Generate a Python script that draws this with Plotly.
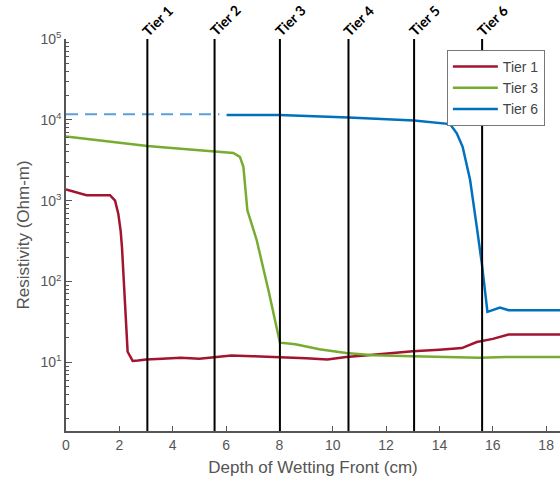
import plotly.graph_objects as go

# ---- data ----
tier1_x = [0, 0.3, 0.77, 1.2, 1.65, 1.84, 1.96, 2.05, 2.1, 2.31, 2.5, 2.7, 3.0, 3.6, 4.3, 5.0, 5.6, 6.2, 7.0, 8.0, 9.0, 9.8, 10.5, 11.2, 12.0, 13.0, 14.0, 14.84, 15.4, 16.0, 16.59, 18.6]
tier1_y = [1380, 1300, 1170, 1170, 1170, 1000, 690, 420, 260, 13.5, 10.4, 10.5, 10.8, 11.1, 11.4, 11.1, 11.6, 12.1, 11.9, 11.6, 11.2, 10.8, 11.6, 12.1, 12.8, 13.7, 14.3, 15.0, 17.8, 19.5, 22.0, 22.0]

tier3_x = [0, 1.0, 2.0, 3.05, 4.3, 5.57, 6.27, 6.52, 6.65, 6.8, 7.15, 7.6, 8.02, 8.6, 9.5, 10.5, 11.52, 13.0, 14.5, 15.5, 16.5, 18.6]
tier3_y = [6200, 5700, 5200, 4730, 4400, 4100, 3900, 3480, 2620, 760, 324, 75, 17.5, 16.7, 14.5, 13.0, 12.2, 11.9, 11.6, 11.4, 11.6, 11.6]

tier6_dash_x = [0, 5.75]
tier6_dash_y = [11700, 11700]
tier6_x = [6.02, 8.0, 10.59, 13.05, 14.4, 14.65, 14.87, 15.15, 15.4, 15.52, 15.59, 15.8, 16.27, 16.59, 18.6]
tier6_y = [11500, 11500, 10700, 9800, 8850, 6800, 4640, 1800, 474, 244, 166, 42, 47.5, 44, 44]

tier_positions = [3.05, 5.57, 8.02, 10.59, 13.05, 15.6]
tier_labels = ["Tier 1", "Tier 2", "Tier 3", "Tier 4", "Tier 5", "Tier 6"]

x_ticks = [0, 2, 4, 6, 8, 10, 12, 14, 16, 18]
y_ticks = [10, 100, 1000, 10000, 100000]
y_ticktext = ["10<sup>1</sup>", "10<sup>2</sup>", "10<sup>3</sup>", "10<sup>4</sup>", "10<sup>5</sup>"]
y_minor = [m * d for d in [1, 10, 100, 1000, 10000] for m in range(2, 10)]

RED = "#a2142f"
GREEN = "#77ac30"
BLUE = "#0072bd"
AX = "#555555"
Y_RANGE = [0.15, 5]

fig = go.Figure()
fig.add_trace(go.Scatter(x=tier6_dash_x, y=tier6_dash_y, mode="lines",
                         line=dict(color="#5aa0dc", width=2, dash="12px,7px"),
                         showlegend=False, hoverinfo="skip"))
fig.add_trace(go.Scatter(x=tier1_x, y=tier1_y, mode="lines", name="Tier 1",
                         line=dict(color=RED, width=2.5)))
fig.add_trace(go.Scatter(x=tier3_x, y=tier3_y, mode="lines", name="Tier 3",
                         line=dict(color=GREEN, width=2.5)))
fig.add_trace(go.Scatter(x=tier6_x, y=tier6_y, mode="lines", name="Tier 6",
                         line=dict(color=BLUE, width=2.5)))
# empty helper trace so the minor-tick overlay axis is drawn
fig.add_trace(go.Scatter(x=[], y=[], yaxis="y2", showlegend=False, hoverinfo="skip"))

for xp, lab in zip(tier_positions, tier_labels):
    fig.add_shape(type="line", xref="x", yref="paper", x0=xp, x1=xp, y0=0, y1=1,
                  line=dict(color="black", width=2), layer="above")
    fig.add_annotation(x=xp, y=1, xref="x", yref="paper", text="<b>" + lab + "</b>",
                       showarrow=False, textangle=-45, xanchor="center", yanchor="middle",
                       xshift=10, yshift=19, font=dict(family="Lato", size=14, color="black"))

fig.update_layout(
    width=560, height=485,
    margin=dict(l=66, r=0, t=39, b=54),
    plot_bgcolor="white", paper_bgcolor="white",
    font=dict(family="Liberation Sans", color=AX, size=14),
    legend=dict(x=0.771, y=0.972, xanchor="left", yanchor="top",
                bgcolor="white", bordercolor="#777777", borderwidth=1,
                itemwidth=45,
                font=dict(size=14, color="#444444"), tracegroupgap=0),
    xaxis=dict(range=[0, 18.52], tickvals=x_ticks, ticks="inside", ticklen=5, tickwidth=1.2,
               tickcolor=AX, showline=True, linecolor=AX, linewidth=1.5,
               showgrid=False, zeroline=False,
               title=dict(text="Depth of Wetting Front (cm)", font=dict(size=17, color=AX), standoff=10)),
    yaxis=dict(type="log", range=Y_RANGE, tickvals=y_ticks, ticktext=y_ticktext,
               ticks="inside", ticklen=6, tickwidth=1.2, tickcolor=AX, showline=True, linecolor=AX,
               linewidth=1.5, showgrid=False, zeroline=False,
               title=dict(text="Resistivity (Ohm-m)", font=dict(size=17, color=AX), standoff=6)),
    yaxis2=dict(type="log", range=Y_RANGE, overlaying="y", anchor="x", side="left",
                tickvals=y_minor, ticks="inside", ticklen=3, tickcolor=AX, tickwidth=1,
                showticklabels=False, showgrid=False, zeroline=False, showline=False),
)

fig.write_html("out.html")
